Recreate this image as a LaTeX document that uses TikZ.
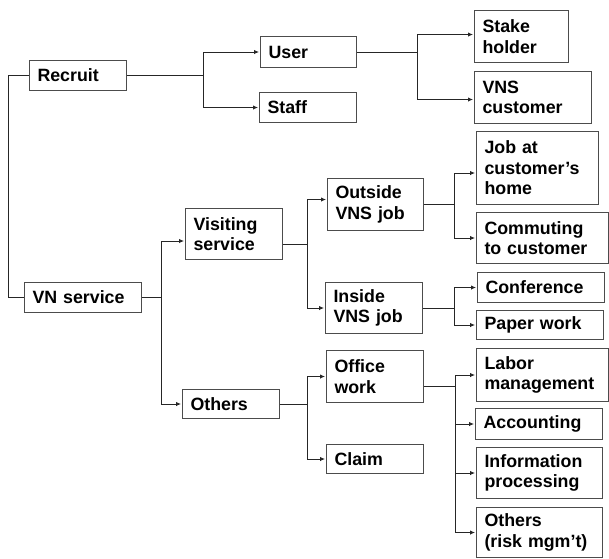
\documentclass[tikz,border=0pt]{standalone}
\usepackage{fontspec}
\setmainfont{Liberation Sans}
\usetikzlibrary{arrows.meta}

\tikzset{
	blk/.style = {draw = black!70, line width = 1pt, anchor = north west, inner xsep = 8pt, inner ysep = 0pt, align = left, font = \bfseries\fontsize{17.8}{20.5}\selectfont},
	ln/.style = {black!85, line width = 0.9pt},
	arr/.style = {ln, -{Latex[length=5pt,width=4.5pt]}, shorten >= 1pt}
}

\begin{document}
\begin{tikzpicture}[x = 1pt, y = -1pt]
	\useasboundingbox (0,0) rectangle (609,558);
	% boxes
	\node [blk, text width = 81pt, minimum height = 30pt] (rec) at (29,60) {Recruit};
	\node [blk, text width = 80pt, minimum height = 31pt] (usr) at (260,36) {User};
	\node [blk, text width = 81pt, minimum height = 30pt] (stf) at (259,92) {Staff};
	\node [blk, text width = 78pt, minimum height = 52pt] (stk) at (474,10) {Stake\\holder};
	\node [blk, text width = 101pt, minimum height = 52pt] (vnc) at (474,71) {VNS\\customer};
	\node [blk, text width = 106pt, minimum height = 73pt] (job) at (476,131) {Job at\\customer’s\\home};
	\node [blk, text width = 116pt, minimum height = 51pt] (com) at (476,212) {Commuting\\to customer};
	\node [blk, text width = 101pt, minimum height = 30pt] (vns) at (24,282) {VN service};
	\node [blk, text width = 81pt, minimum height = 51pt] (vis) at (185,208) {Visiting\\service};
	\node [blk, text width = 80pt, minimum height = 52pt] (out) at (327,178) {Outside\\VNS job};
	\node [blk, text width = 81pt, minimum height = 51pt] (ins) at (325,282) {Inside\\VNS job};
	\node [blk, text width = 111pt, minimum height = 30pt] (cnf) at (477,272) {Conference};
	\node [blk, text width = 111pt, minimum height = 29pt] (ppr) at (476,310) {Paper work};
	\node [blk, text width = 81pt, minimum height = 29pt] (oth) at (182,389) {Others};
	\node [blk, text width = 81pt, minimum height = 52pt] (off) at (326,350) {Office\\work};
	\node [blk, text width = 81pt, minimum height = 29pt] (clm) at (326,444) {Claim};
	\node [blk, text width = 116pt, minimum height = 53pt] (lab) at (476,348) {Labor\\management};
	\node [blk, text width = 111pt, minimum height = 31pt] (acc) at (475,408) {Accounting};
	\node [blk, text width = 110pt, minimum height = 51pt] (inf) at (476,447) {Information\\processing};
	\node [blk, text width = 110pt, minimum height = 50pt] (rsk) at (476,507) {Others\\(risk mgm’t)};
	% junctions
	\coordinate (jtr) at (8,0);
	\coordinate (jrec) at (203,0);
	\coordinate (jusr) at (417,0);
	\coordinate (jvns) at (161,0);
	\coordinate (jvis) at (307,0);
	\coordinate (jout) at (454,0);
	\coordinate (joth) at (307,0);
	\coordinate (joff) at (455,0);
	% connectors
	\draw [ln] (rec.west) -- (rec.west -| jtr) -- (vns.west -| jtr) -- (vns.west);
	\draw [ln] (rec.east) -- (rec.east -| jrec);
	\draw [arr] (rec.east -| jrec) |- (usr.west);
	\draw [arr] (rec.east -| jrec) |- (stf.west);
	\draw [ln] (usr.east) -- (usr.east -| jusr);
	\draw [arr] (usr.east -| jusr) |- ([yshift=2pt]stk.west);
	\draw [arr] (usr.east -| jusr) |- ([yshift=-2pt]vnc.west);
	\draw [ln] (vns.east) -- (vns.east -| jvns);
	\draw [arr] (vns.east -| jvns) |- ([yshift=-7pt]vis.west);
	\draw [arr] (vns.east -| jvns) |- (oth.west);
	\draw [ln] ([yshift=-10pt]vis.east) -- ([yshift=-10pt]vis.east -| jvis);
	\draw [arr] ([yshift=-10pt]vis.east -| jvis) |- ([yshift=5pt]out.west);
	\draw [arr] ([yshift=-10pt]vis.east -| jvis) |- (ins.west);
	\draw [ln] (out.east) -- (out.east -| jout);
	\draw [arr] (out.east -| jout) |- ([yshift=-5pt]job.west);
	\draw [arr] (out.east -| jout) |- (com.west);
	\draw [ln] (ins.east) -- (ins.east -| jout);
	\draw [arr] (ins.east -| jout) |- (cnf.west);
	\draw [arr] (ins.east -| jout) |- (ppr.west);
	\draw [ln] (oth.east) -- (oth.east -| joth);
	\draw [arr] (oth.east -| joth) |- (off.west);
	\draw [arr] (oth.east -| joth) |- (clm.west);
	\draw [ln] ([yshift=-10pt]off.east) -- ([yshift=-10pt]off.east -| joff);
	\foreach \t in {lab,acc,inf,rsk}{
		\draw [arr] ([yshift=-10pt]off.east -| joff) |- (\t.west);
	}
\end{tikzpicture}
\end{document}
